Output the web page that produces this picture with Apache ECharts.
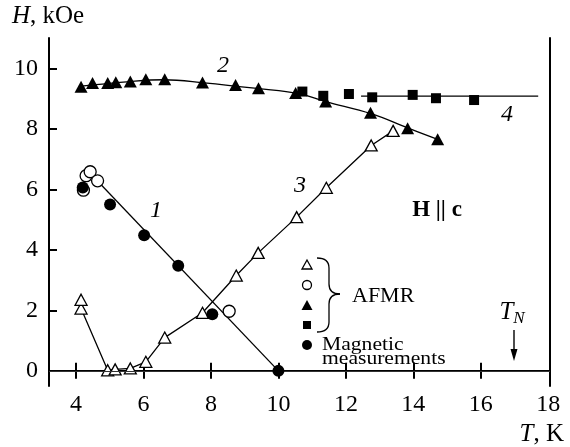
<!DOCTYPE html>
<html lang="en">
<head>
    <meta charset="UTF-8">
    <title>H(T) phase diagram</title>
    <script src="https://cdn.jsdelivr.net/npm/echarts@6/dist/echarts.min.js"></script>
</head>
<style type="text/css">
    html, body { margin: 0; padding: 0; background: #fff; }
    #chart { width: 570px; height: 447px; }
</style>
<body>
<div id="chart"></div>
<script>
    var FONT = 'Liberation Serif';

    // tick values
    var xTicks = [4, 6, 8, 10, 12, 14, 16, 18];
    var yTicks = [0, 2, 4, 6, 8, 10];

    // measured points, [T (K), H (kOe)]
    var openTriangles = [[4.15, 2.35], [4.15, 2.06], [4.94, 0.02], [5.16, 0.05], [5.61, 0.08], [6.07, 0.3],
        [6.63, 1.1], [7.75, 1.92], [8.75, 3.15], [9.4, 3.9], [10.54, 5.08], [11.42, 6.05], [12.75, 7.45], [13.4, 7.93]];
    var openCircles = [[4.22, 5.97], [4.3, 6.45], [4.42, 6.58], [4.64, 6.28], [8.54, 1.97]];
    var filledTriangles = [[4.15, 9.39], [4.49, 9.51], [4.94, 9.51], [5.18, 9.54], [5.61, 9.56], [6.07, 9.64],
        [6.63, 9.64], [7.75, 9.53], [8.73, 9.45], [9.41, 9.34], [10.51, 9.18], [11.4, 8.9], [12.73, 8.53],
        [13.83, 8.02], [14.72, 7.65]];
    var squares = [[10.71, 9.23], [11.33, 9.09], [12.09, 9.15], [12.78, 9.04], [13.98, 9.12], [14.67, 9.01], [15.8, 8.95]];
    var filledCircles = [[4.2, 6.06], [5.01, 5.5], [6.02, 4.48], [7.03, 3.47], [8.04, 1.87], [10.0, 0]];

    // guide curves
    var curve1 = [[4.42, 6.53], [10.0, 0]];
    var curve2 = [[4.1, 9.4], [5.5, 9.55], [6.6, 9.62], [7.8, 9.52], [9.4, 9.33], [10.6, 9.16], [11.4, 8.9],
        [12.75, 8.5], [13.85, 8.02], [14.72, 7.65]];
    var curve4 = [[12.45, 9.08], [17.7, 9.08]];

    var chart = echarts.init(document.getElementById('chart'));

    var axisLine = { lineStyle: { color: '#000', width: 2 } };
    var tickStyle = { inside: true, length: 8, lineStyle: { color: '#000', width: 2 } };
    var thin = { fill: 'none', stroke: '#000', lineWidth: 1.3 };
    var openMark = { color: '#fff', borderColor: '#000', borderWidth: 1.3, opacity: 1 };
    var fullMark = { color: '#000', opacity: 1 };

    function lineSeries(data, z) {
        return {
            type: 'line', data: data, symbol: 'none', smooth: false, silent: true, z: z || 2,
            lineStyle: { color: '#000', width: 1.3 }
        };
    }

    function label(x, y, text, font) {
        return { type: 'text', x: x, y: y, style: { text: text, fill: '#000', font: font, textAlign: 'center', textVerticalAlign: 'middle' } };
    }

    var option = {
        animation: false,
        backgroundColor: '#fff',
        grid: { left: 49, right: 20, top: 38, bottom: 61 },
        xAxis: [{
            type: 'value', min: 3.2, max: 18.05,
            axisLine: axisLine,
            axisTick: Object.assign({ customValues: xTicks.slice(0, 7) }, tickStyle),
            axisLabel: { customValues: xTicks, margin: 7, color: '#000', fontFamily: FONT, fontSize: 24 },
            splitLine: { show: false }
        }, {
            type: 'value', position: 'top', min: 3.2, max: 18.05,
            axisLine: axisLine,
            axisTick: Object.assign({ customValues: xTicks.slice(0, 7) }, tickStyle),
            axisLabel: { show: false },
            splitLine: { show: false }
        }],
        yAxis: [{
            type: 'value', min: -0.5, max: 11,
            axisLine: axisLine,
            axisTick: Object.assign({ customValues: yTicks }, tickStyle),
            axisLabel: { customValues: yTicks, margin: 11, color: '#000', fontFamily: FONT, fontSize: 24 },
            splitLine: { show: false }
        }, {
            type: 'value', position: 'right', min: -0.5, max: 11,
            axisLine: axisLine,
            axisTick: { show: false },
            axisLabel: { show: false },
            splitLine: { show: false }
        }],
        series: [
            {
                type: 'line', data: [], silent: true,
                markLine: {
                    silent: true, symbol: 'none', label: { show: false },
                    lineStyle: { color: '#333', width: 1, type: 'solid' },
                    data: [{ yAxis: 0 }]
                }
            },
            lineSeries(curve1),
            Object.assign(lineSeries(curve2), { smooth: 0.4 }),
            lineSeries(curve4),
            {
                type: 'line', data: openTriangles.slice(1), symbol: 'triangle', symbolSize: [12, 11],
                showAllSymbol: true, z: 3,
                lineStyle: { color: '#000', width: 1.3 },
                itemStyle: openMark
            },
            {
                type: 'scatter', data: openTriangles.slice(0, 1), symbol: 'triangle', symbolSize: [12, 11], z: 3,
                itemStyle: openMark
            },
            {
                type: 'scatter', data: openCircles, symbol: 'circle', symbolSize: 12, z: 4,
                itemStyle: openMark
            },
            {
                type: 'scatter', data: filledCircles, symbol: 'circle', symbolSize: 12, z: 5,
                itemStyle: fullMark
            },
            {
                type: 'scatter', data: filledTriangles, symbol: 'triangle', symbolSize: [13, 12], z: 5,
                itemStyle: fullMark
            },
            {
                type: 'scatter', data: squares, symbol: 'rect', symbolSize: 10, z: 5,
                itemStyle: fullMark
            }
        ],
        graphic: [
            // axis names
            { type: 'text', x: 12, y: 16, style: {
                text: '{i|H}, kOe', fill: '#000', font: '25px "Liberation Serif"', textVerticalAlign: 'middle',
                rich: { i: { fontStyle: 'italic', fontFamily: FONT, fontSize: 25 } } } },
            { type: 'text', x: 564, y: 434, style: {
                text: '{i|T}, K', fill: '#000', font: '25px "Liberation Serif"', textAlign: 'right', textVerticalAlign: 'middle',
                rich: { i: { fontStyle: 'italic', fontFamily: FONT, fontSize: 25 } } } },
            // curve numbers
            label(156, 211, '1', 'italic 24px "Liberation Serif"'),
            label(223, 66, '2', 'italic 24px "Liberation Serif"'),
            label(300, 186, '3', 'italic 24px "Liberation Serif"'),
            label(507, 115, '4', 'italic 24px "Liberation Serif"'),
            label(437, 210, 'H || c', 'bold 23px "Liberation Serif"'),
            // legend symbols
            { type: 'polygon', shape: { points: [[307, 260], [302, 269], [312, 269]] }, style: { fill: '#fff', stroke: '#000', lineWidth: 1.3 } },
            { type: 'circle', shape: { cx: 307, cy: 285, r: 4.5 }, style: { fill: '#fff', stroke: '#000', lineWidth: 1.3 } },
            { type: 'polygon', shape: { points: [[307, 300], [301.5, 310], [312.5, 310]] }, style: { fill: '#000' } },
            { type: 'rect', shape: { x: 303, y: 321, width: 8, height: 8 }, style: { fill: '#000' } },
            { type: 'circle', shape: { cx: 307, cy: 345, r: 5 }, style: { fill: '#000' } },
            // brace
            { type: 'bezierCurve', shape: { x1: 317, y1: 258, cpx1: 329, cpy1: 258, x2: 329, y2: 268 }, style: thin },
            { type: 'line', shape: { x1: 329, y1: 268, x2: 329, y2: 284 }, style: thin },
            { type: 'bezierCurve', shape: { x1: 329, y1: 284, cpx1: 329, cpy1: 294, x2: 340, y2: 294 }, style: thin },
            { type: 'bezierCurve', shape: { x1: 340, y1: 294, cpx1: 329, cpy1: 294, x2: 329, y2: 304 }, style: thin },
            { type: 'line', shape: { x1: 329, y1: 304, x2: 329, y2: 322 }, style: thin },
            { type: 'bezierCurve', shape: { x1: 329, y1: 322, cpx1: 329, cpy1: 332, x2: 317, y2: 332 }, style: thin },
            { type: 'text', x: 352, y: 296, style: { text: 'AFMR', fill: '#000', font: '22px "Liberation Serif"', textVerticalAlign: 'middle' } },
            { type: 'text', x: 322, y: 345, scaleX: 1.2, style: { text: 'Magnetic', fill: '#000', font: '18px "Liberation Serif"', textVerticalAlign: 'middle' } },
            { type: 'text', x: 322, y: 359.5, scaleX: 1.2, style: { text: 'measurements', fill: '#000', font: '18px "Liberation Serif"', textVerticalAlign: 'middle' } },
            // Neel temperature marker
            { type: 'text', x: 512, y: 312, style: {
                text: '{i|T}{s|N}', fill: '#000', textAlign: 'center', textVerticalAlign: 'middle',
                rich: { i: { fontStyle: 'italic', fontFamily: FONT, fontSize: 25 },
                        s: { fontStyle: 'italic', fontFamily: FONT, fontSize: 17, padding: [14, 0, 0, 0] } } } },
            { type: 'line', shape: { x1: 514, y1: 330, x2: 514, y2: 352 }, style: { stroke: '#000', lineWidth: 1.4 } },
            { type: 'polygon', shape: { points: [[510.5, 349], [517.5, 349], [514, 361]] }, style: { fill: '#000' } }
        ]
    };

    chart.setOption(option);
</script>
</body>
</html>
